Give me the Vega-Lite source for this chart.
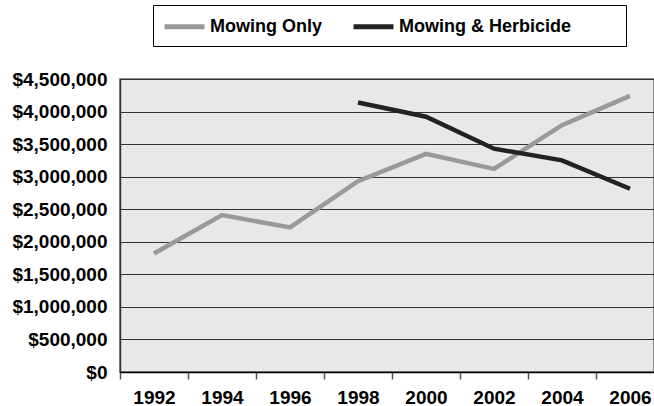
{
  "$schema": "https://vega.github.io/schema/vega-lite/v6.json",
  "autosize": {"type": "none"},
  "padding": {"left": 120, "top": 79, "right": 0, "bottom": 34},
  "width": 534,
  "height": 293,
  "background": "white",
  "config": {
    "font": "Liberation Sans",
    "view": {"fill": "#e8e8e8", "stroke": "#666666", "strokeWidth": 1.5}
  },
  "data": {
    "values": [
      {"year": "1992", "series": "Mowing Only", "cost": 1820000},
      {"year": "1994", "series": "Mowing Only", "cost": 2410000},
      {"year": "1996", "series": "Mowing Only", "cost": 2220000},
      {"year": "1998", "series": "Mowing Only", "cost": 2930000},
      {"year": "2000", "series": "Mowing Only", "cost": 3350000},
      {"year": "2002", "series": "Mowing Only", "cost": 3120000},
      {"year": "2004", "series": "Mowing Only", "cost": 3790000},
      {"year": "2006", "series": "Mowing Only", "cost": 4240000},
      {"year": "1998", "series": "Mowing & Herbicide", "cost": 4140000},
      {"year": "2000", "series": "Mowing & Herbicide", "cost": 3920000},
      {"year": "2002", "series": "Mowing & Herbicide", "cost": 3430000},
      {"year": "2004", "series": "Mowing & Herbicide", "cost": 3250000},
      {"year": "2006", "series": "Mowing & Herbicide", "cost": 2815000}
    ]
  },
  "mark": {"type": "line", "strokeWidth": 4.5, "strokeJoin": "miter"},
  "encoding": {
    "x": {
      "field": "year",
      "type": "ordinal",
      "bandPosition": 0.5,
      "scale": {"type": "band", "paddingInner": 0, "paddingOuter": 0, "range": [0, 544]},
      "axis": {
        "title": null,
        "labelAngle": 0,
        "labelFont": "Liberation Sans",
        "labelFontSize": 19,
        "labelFontWeight": "bold",
        "labelColor": "black",
        "labelPadding": 9,
        "tickBand": "extent",
        "tickSize": 7,
        "tickColor": "#555555",
        "tickWidth": 1.5,
        "domainColor": "black",
        "domainWidth": 1.5,
        "grid": false
      }
    },
    "y": {
      "field": "cost",
      "type": "quantitative",
      "scale": {"domain": [0, 4500000], "nice": false},
      "axis": {
        "title": null,
        "values": [0, 500000, 1000000, 1500000, 2000000, 2500000, 3000000, 3500000, 4000000, 4500000],
        "format": "$,.0f",
        "labelFont": "Liberation Sans",
        "labelFontSize": 19,
        "labelFontWeight": "bold",
        "labelColor": "black",
        "labelPadding": 13,
        "ticks": false,
        "domainColor": "#333333",
        "domainWidth": 1.5,
        "grid": true,
        "gridColor": "#333333",
        "gridWidth": 1.2,
        "gridOpacity": 1
      }
    },
    "color": {
      "field": "series",
      "type": "nominal",
      "sort": ["Mowing Only", "Mowing & Herbicide"],
      "scale": {"domain": ["Mowing Only", "Mowing & Herbicide"], "range": ["#999999", "#222222"]},
      "legend": {
        "title": null,
        "orient": "none",
        "direction": "horizontal",
        "legendX": 33,
        "legendY": -74,
        "padding": 9,
        "strokeColor": "black",
        "fillColor": "white",
        "symbolType": "M-1,0H3",
        "symbolSize": 400,
        "symbolStrokeWidth": 5,
        "labelFont": "Liberation Sans",
        "labelFontSize": 18,
        "labelFontWeight": "bold",
        "labelColor": "black",
        "labelOffset": 23,
        "labelLimit": 400,
        "columnPadding": 21,
        "labelExpr": "datum.label == 'Mowing & Herbicide' ? datum.label + '\u00a0\u00a0\u00a0\u00a0\u00a0\u00a0\u00a0\u00a0\u00a0\u200b' : datum.label"
      }
    }
  }
}
